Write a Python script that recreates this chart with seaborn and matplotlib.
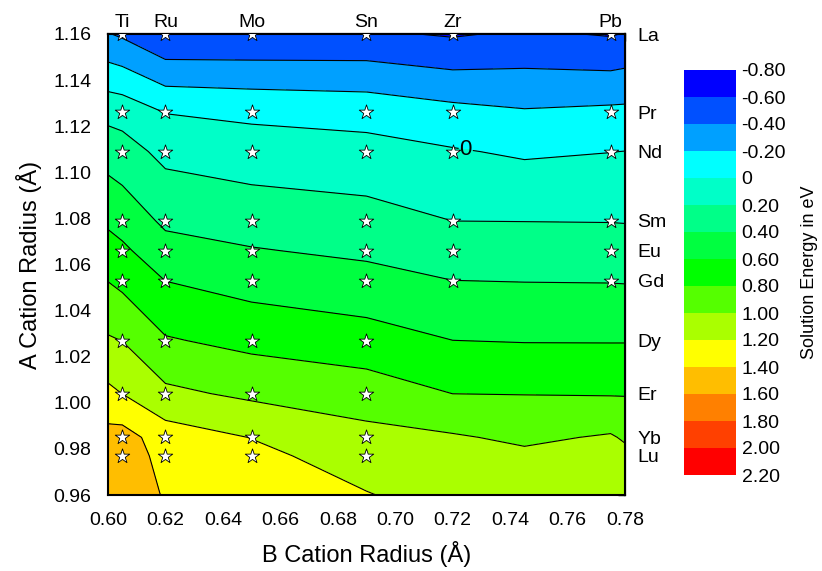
import numpy as np
import pandas as pd
import matplotlib
matplotlib.use("Agg")
import matplotlib.pyplot as plt
import seaborn as sns

# ---------------- data ----------------
B_names = ["Ti", "Ru", "Mo", "Sn", "Zr", "Pb"]
B_radius = [0.605, 0.620, 0.650, 0.690, 0.720, 0.775]
A_names = ["La", "Pr", "Nd", "Sm", "Eu", "Gd", "Dy", "Er", "Yb", "Lu"]
A_radius = [1.160, 1.126, 1.109, 1.079, 1.066, 1.053, 1.027, 1.004, 0.985, 0.977]
# number of B cations computed for each A cation (stars), in B_names order
computed_B_count = [6, 6, 6, 6, 6, 6, 4, 4, 4, 4]

# contour grid, rows follow grid_y
grid_x = [0.600, 0.605, 0.620, 0.650, 0.690, 0.720, 0.745, 0.775, 0.780]
grid_y = [1.160, 1.126, 1.109, 1.079, 1.066, 1.053, 1.027, 1.004, 0.985, 0.977, 0.960]
e_x600 = [-0.39, 0.141, 0.315, 0.567, 0.680, 0.796, 1.022, 1.245, 1.470, 1.510, 1.550]
e_Ti = [-0.43, 0.125, 0.282, 0.523, 0.637, 0.751, 0.997, 1.198, 1.480, 1.500, 1.550]
e_Ru = [-0.59, -0.005, 0.146, 0.363, 0.474, 0.598, 0.818, 1.043, 1.300, 1.340, 1.380]
e_Mo = [-0.58, -0.040, 0.093, 0.316, 0.412, 0.519, 0.745, 0.961, 1.195, 1.250, 1.300]
e_Sn = [-0.57, -0.070, 0.066, 0.274, 0.364, 0.465, 0.684, 0.900, 1.059, 1.109, 1.210]
e_Zr = [-0.62, -0.139, 0.016, 0.199, 0.300, 0.401, 0.601, 0.799, 1.020, 1.060, 1.120]
e_x745 = [-0.57, -0.182, -0.026, 0.197, 0.294, 0.395, 0.592, 0.795, 0.965, 1.037, 1.100]
e_Pb = [-0.615, -0.157, -0.003, 0.194, 0.292, 0.392, 0.591, 0.788, 1.020, 1.060, 1.120]
e_x780 = [-0.59, -0.154, 0.002, 0.191, 0.289, 0.389, 0.591, 0.788, 0.977, 1.050, 1.120]

levels = [-0.8, -0.6, -0.4, -0.2, 0.0, 0.2, 0.4, 0.6, 0.8, 1.0, 1.2, 1.4, 1.6, 1.8, 2.0, 2.2]
colors = ["#0000FF", "#0050FF", "#00A0FF", "#00FFFF", "#00FFC8", "#00FF88",
          "#00FF40", "#00FF00", "#55FF00", "#AAFF00", "#FFFF00", "#FFBE00",
          "#FF8000", "#FF4000", "#FF0000"]

# ---------------- figure ----------------
sns.set_style("white")
plt.rcParams["font.family"] = ["Liberation Sans", "DejaVu Sans"]
plt.rcParams.update({"text.color": "black", "axes.labelcolor": "black",
                     "xtick.color": "black", "ytick.color": "black",
                     "axes.edgecolor": "black"})

W, H = 822, 571
fig = plt.figure(figsize=(W / 100, H / 100), dpi=100)
ax = fig.add_axes([108 / W, 1 - 495 / H, 517 / W, 461 / H])

Z = np.array([e_x600, e_Ti, e_Ru, e_Mo, e_Sn, e_Zr, e_x745, e_Pb, e_x780]).T
gx = np.array(grid_x)
gy = np.array(grid_y)
order = np.argsort(gy)
X, Y = np.meshgrid(gx, gy[order])
Zs = Z[order, :]

cf = ax.contourf(X, Y, Zs, levels=levels, colors=colors)
line_levels = [v for v in levels if v != 0.0]
ax.contour(X, Y, Zs, levels=line_levels, colors="k", linewidths=0.8,
           linestyles="solid")
cs0 = ax.contour(X, Y, Zs, levels=[0.0], colors="k", linewidths=0.8,
                 linestyles="solid")
cs0.clabel(manual=[(0.7245, 1.1095)], fmt=lambda v: "0",
           fontsize=16, inline=True, inline_spacing=1)
for t in cs0.labelTexts:
    t.set_rotation(0)

# stars at computed compositions
sx, sy = [], []
for a_r, n in zip(A_radius, computed_B_count):
    for b_r in B_radius[:n]:
        sx.append(b_r)
        sy.append(a_r)
stars = pd.DataFrame({"B": sx, "A": sy})
sns.scatterplot(data=stars, x="B", y="A", marker="*", s=120, color="white",
                edgecolor="black", linewidth=0.6, ax=ax, zorder=5, legend=False)

ax.set_xlim(0.60, 0.78)
ax.set_ylim(0.96, 1.16)
ax.set_xticks(np.arange(0.60, 0.7801, 0.02))
ax.set_xticks(np.arange(0.61, 0.78, 0.02), minor=True)
ax.set_yticks(np.arange(0.96, 1.1601, 0.02))
ax.set_yticks(np.arange(0.97, 1.16, 0.02), minor=True)
ax.xaxis.set_major_formatter(matplotlib.ticker.FormatStrFormatter("%.2f"))
ax.yaxis.set_major_formatter(matplotlib.ticker.FormatStrFormatter("%.2f"))
ax.tick_params(which="major", direction="out", length=7, width=1.2,
               labelsize=14, pad=5, top=False, right=False)
ax.tick_params(which="minor", direction="out", length=4, width=1.0,
               top=False, right=False)
for sp in ax.spines.values():
    sp.set_linewidth(1.5)
    sp.set_color("black")

ax.set_xlabel("B Cation Radius (Å)", fontsize=17, labelpad=9)
ax.set_ylabel("A Cation Radius (Å)", fontsize=17, labelpad=8)

# top: inward ticks every 0.01 + element names
top_t = ax.secondary_xaxis("top")
top_t.set_xticks(np.arange(0.60, 0.7801, 0.01))
top_t.tick_params(direction="in", length=5, width=1.0, labeltop=False)
top_l = ax.secondary_xaxis("top")
top_l.set_xticks(B_radius)
top_l.set_xticklabels(B_names)
top_l.tick_params(length=0, labelsize=14, pad=2)

# right: inward ticks every 0.01 + element names
right_t = ax.secondary_yaxis("right")
right_t.set_yticks(np.arange(0.96, 1.1601, 0.01))
right_t.tick_params(direction="in", length=5, width=1.0, labelright=False)
right_l = ax.secondary_yaxis("right")
right_l.set_yticks(A_radius)
right_l.set_yticklabels(A_names)
right_l.tick_params(length=0, labelsize=14, pad=9)
for sec in (top_t, top_l, right_t, right_l):
    for sp in sec.spines.values():
        sp.set_linewidth(1.5)

# colorbar
cax = fig.add_axes([684 / W, 1 - 475 / H, 52 / W, 405 / H])
cbar = fig.colorbar(cf, cax=cax, ticks=levels)
cbar.ax.invert_yaxis()
cbar.outline.set_visible(False)
cbar.ax.tick_params(length=0, labelsize=14, pad=4)
cbar.ax.set_yticklabels(["0" if abs(v) < 1e-9 else f"{v:.2f}" for v in levels])
cbar.set_label("Solution Energy in eV", fontsize=13, labelpad=11)

fig.savefig("out.png", dpi=100)
